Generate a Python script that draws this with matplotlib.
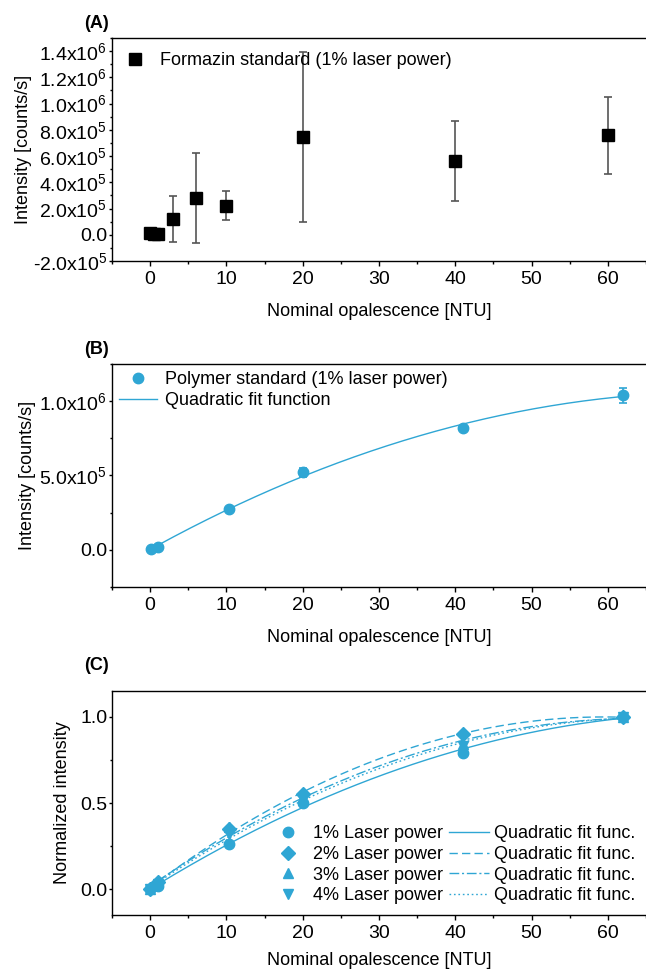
import matplotlib
matplotlib.use('Agg')
import matplotlib.pyplot as plt
import numpy as np
from matplotlib.ticker import MultipleLocator, FuncFormatter
from matplotlib.lines import Line2D

plt.rcParams['font.family'] = ['Liberation Sans', 'DejaVu Sans']
plt.rcParams['mathtext.default'] = 'regular'
plt.rcParams['font.size'] = 13

blue = '#2fa6d4'

# (A) formazin standard
ntu_a = [0, 0.5, 1, 3, 6, 10, 20, 40, 60]
int_a = [1.5e4, 8e3, 5e3, 1.23e5, 2.81e5, 2.22e5, 7.46e5, 5.62e5, 7.59e5]
err_a = [0, 0, 0, 1.75e5, 3.4e5, 1.1e5, 6.5e5, 3.07e5, 2.93e5]

# (B) polymer standard
ntu_b = [0.1, 1, 10.3, 20, 41, 62]
int_b = [5e3, 2.2e4, 2.72e5, 5.22e5, 8.2e5, 1.04e6]
err_b = [0, 0, 0, 3e4, 0, 5e4]

# (C) normalized intensity
ntu_c = [0, 1, 10.3, 20, 41, 62]
norm_1 = [0.0, 0.02, 0.26, 0.50, 0.79, 1.0]
norm_2 = [0.0, 0.04, 0.35, 0.55, 0.90, 1.0]
norm_3 = [0.0, 0.035, 0.36, 0.52, 0.84, 1.0]
norm_4 = [0.0, 0.03, 0.32, 0.52, 0.83, 1.0]
powers = ['1% Laser power', '2% Laser power', '3% Laser power', '4% Laser power']


def sci_fmt(v, pos):
    if abs(v) < 1e-9:
        return '0.0'
    e = int(np.floor(np.log10(abs(v))))
    m = v / 10**e
    return '%.1fx10$^{%d}$' % (m, e)


def style_axes(ax, ylab_x, xpad=11):
    ax.spines['right'].set_visible(False)
    ax.set_xlim(-5, 65)
    ax.xaxis.set_major_locator(MultipleLocator(10))
    ax.xaxis.set_minor_locator(MultipleLocator(5))
    ax.tick_params(axis='x', which='major', direction='out', length=3.6, width=1,
                   labelsize=14, pad=3.5)
    ax.tick_params(axis='x', which='minor', direction='out', length=2.2, width=1)
    ax.tick_params(axis='y', which='major', direction='out', length=2.5, width=1,
                   labelsize=14, pad=1)
    ax.tick_params(axis='y', which='minor', direction='out', length=1.5, width=1)
    ax.tick_params(top=False, right=False)
    ax.set_xlabel('Nominal opalescence [NTU]', fontsize=13, labelpad=xpad)
    ax.yaxis.set_label_coords(ylab_x, 0.5)
    for s in ax.spines.values():
        s.set_linewidth(1)


fig = plt.figure(figsize=(6.46, 9.72), dpi=100)

W = 646.0
H = 972.0
axA = fig.add_axes([112/W, 1-261/H, (646-112)/W, (261-38)/H])
axB = fig.add_axes([112/W, 1-587/H, (646-112)/W, (587-364)/H])
axC = fig.add_axes([112/W, 1-915/H, (646-112)/W, (915-691)/H])

# ---- A
axA.errorbar(ntu_a, int_a, yerr=err_a, fmt='s', color='black', ecolor='#555555',
             elinewidth=1.2, capsize=3, capthick=1.2, markersize=8)
axA.set_ylabel('Intensity [counts/s]', fontsize=13)
style_axes(axA, (32-112)/534.0)
axA.set_ylim(-2e5, 1.5e6)
axA.yaxis.set_major_locator(MultipleLocator(2e5))
axA.yaxis.set_minor_locator(MultipleLocator(1e5))
axA.yaxis.set_major_formatter(FuncFormatter(sci_fmt))
hA = Line2D([], [], linestyle='none', marker='s', markersize=8, color='black')
axA.legend([hA], ['Formazin standard (1% laser power)'], loc='upper left',
           frameon=False, fontsize=13, handlelength=1.0, handletextpad=0.9,
           borderpad=0.4, borderaxespad=0.38, bbox_to_anchor=(0.0, 1.0))
fig.text(84/W, 1-24/H, '(A)', fontsize=13, fontweight='bold', va='center')

# ---- B
coef_b = np.polyfit(ntu_b, int_b, 2)
xb = np.linspace(1, 62, 200)
axB.plot(xb, np.polyval(coef_b, xb), color=blue, lw=1)
axB.errorbar(ntu_b, int_b, yerr=err_b, fmt='o', color=blue, ecolor=blue,
             elinewidth=1.2, capsize=3, capthick=1.2, markersize=7.5)
axB.set_ylabel('Intensity [counts/s]', fontsize=13)
style_axes(axB, (36-112)/534.0)
axB.set_ylim(-2.5e5, 1.25e6)
axB.yaxis.set_major_locator(MultipleLocator(5e5))
axB.yaxis.set_minor_locator(MultipleLocator(2.5e5))
axB.yaxis.set_major_formatter(FuncFormatter(sci_fmt))
hB1 = Line2D([], [], linestyle='none', marker='o', markersize=7.5, color=blue)
hB2 = Line2D([], [], color=blue, lw=1)
axB.legend([hB1, hB2], ['Polymer standard (1% laser power)', 'Quadratic fit function'],
           loc='upper left', frameon=False, fontsize=13, handletextpad=0.44,
           handlelength=2.1, labelspacing=0.2, borderpad=0.4, borderaxespad=0.0,
           bbox_to_anchor=(0.0, 1.0))
fig.text(84/W, 1-350/H, '(B)', fontsize=13, fontweight='bold', va='center')

# ---- C
markers = ['o', 'D', '^', 'v']
msizes = [7.5, 7, 7.5, 7.5]
styles = ['-', (0, (6, 3)), (0, (7, 2, 1.5, 2)), (0, (1.2, 2))]
series = [norm_1, norm_2, norm_3, norm_4]
xc = np.linspace(1, 62, 200)
pts = []
lines = []
for i in range(4):
    c = np.polyfit(ntu_c, series[i], 2)
    ln, = axC.plot(xc, np.polyval(c, xc), color=blue, lw=1, linestyle=styles[i])
    lines.append(ln)
for i in range(4):
    p, = axC.plot(ntu_c, series[i], linestyle='none', marker=markers[i],
                  markersize=msizes[i], color=blue)
    pts.append(p)
axC.set_ylabel('Normalized intensity', fontsize=13)
style_axes(axC, (71-112)/534.0, xpad=7)
axC.set_ylim(-0.15, 1.15)
axC.yaxis.set_major_locator(MultipleLocator(0.5))
axC.yaxis.set_minor_locator(MultipleLocator(0.25))
axC.yaxis.set_major_formatter(FuncFormatter(lambda v, p: '%.1f' % v))
axC.legend(pts + lines, powers + ['Quadratic fit func.'] * 4, ncol=2,
           loc='lower right', frameon=False, fontsize=13, handletextpad=0.3,
           handlelength=2.2, labelspacing=0.2, columnspacing=0.3,
           bbox_to_anchor=(1.0, 0.0), borderaxespad=0.2)
fig.text(84/W, 1-665/H, '(C)', fontsize=13, fontweight='bold', va='center')

fig.savefig('out.png', dpi=100)
